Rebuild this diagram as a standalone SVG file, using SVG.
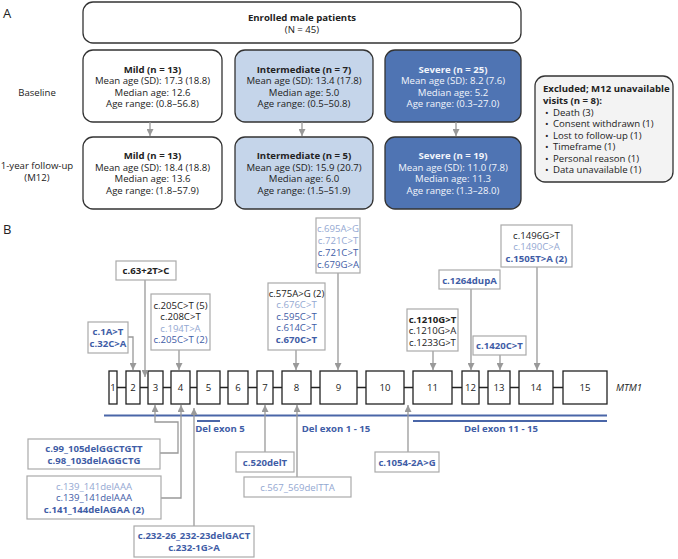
<svg xmlns="http://www.w3.org/2000/svg" width="678" height="559" viewBox="0 0 678 559">
<defs>
<style>
text{font-family:"Open Sans","Noto Sans","DejaVu Sans",sans-serif;font-size:9.6px;fill:#222}
.c{text-anchor:middle}
.b{font-weight:bold}
.w{fill:#f2f5fb}
.bl{fill:#3f5da6}
.lb{fill:#94a8d2}
.pan{font-size:13px}
.ex{font-size:9.6px}
.abox{stroke:#333;stroke-width:1.3}
.vbox{fill:#fff;stroke:#aaa;stroke-width:1.2}
.exon{fill:#fff;stroke:#222;stroke-width:1.3}
.con{fill:none;stroke:#999;stroke-width:1.3}
.del{stroke:#4a66a8;stroke-width:2}
</style>
<marker id="ah" markerWidth="7" markerHeight="7" refX="7" refY="3.5" orient="auto" markerUnits="userSpaceOnUse">
<path d="M0,0 L7,3.5 L0,7 z" fill="#999"/>
</marker>
</defs>
<rect width="678" height="559" fill="#fff"/>

<text x="3" y="18" class="pan">A</text>
<text x="3" y="234" class="pan">B</text>
<text x="37" y="95.5" class="c">Baseline</text>
<text x="37" y="168.5" class="c">1-year follow-up</text>
<text x="37" y="180.5" class="c">(M12)</text>

<g id="enrolled">
<rect x="83" y="2" width="438" height="41" rx="10" fill="#fff" class="abox"/>
<text x="302" y="21" class="c b">Enrolled male patients</text>
<text x="302" y="33" class="c">(N = 45)</text>
</g>

<g id="mild-baseline">
<rect x="83" y="50" width="139" height="72" rx="10" fill="#fff" class="abox"/>
<text x="152.5" y="72.5" class="c b">Mild (n = 13)</text>
<text x="152.5" y="84" class="c">Mean age (SD): 17.3 (18.8)</text>
<text x="152.5" y="95.5" class="c">Median age: 12.6</text>
<text x="152.5" y="107" class="c">Age range: (0.8–56.8)</text>
</g>
<g id="intermediate-baseline">
<rect x="235" y="50" width="138" height="72" rx="10" fill="#c5d5ea" class="abox"/>
<text x="304" y="72.5" class="c b">Intermediate (n = 7)</text>
<text x="304" y="84" class="c">Mean age (SD): 13.4 (17.8)</text>
<text x="304" y="95.5" class="c">Median age:  5.0</text>
<text x="304" y="107" class="c">Age range: (0.5–50.8)</text>
</g>
<g id="severe-baseline">
<rect x="385" y="50" width="136" height="72" rx="10" fill="#4f74b3" class="abox"/>
<text x="453" y="72.5" class="c b w">Severe (n = 25)</text>
<text x="453" y="84" class="c w">Mean age (SD): 8.2 (7.6)</text>
<text x="453" y="95.5" class="c w">Median age: 5.2</text>
<text x="453" y="107" class="c w">Age range: (0.3–27.0)</text>
</g>

<g id="mild-m12">
<rect x="83" y="137" width="139" height="72" rx="10" fill="#fff" class="abox"/>
<text x="152.5" y="159" class="c b">Mild (n = 13)</text>
<text x="152.5" y="170.5" class="c">Mean age (SD): 18.4 (18.8)</text>
<text x="152.5" y="182" class="c">Median age:  13.6</text>
<text x="152.5" y="193.5" class="c">Age range: (1.8–57.9)</text>
</g>
<g id="intermediate-m12">
<rect x="235" y="137" width="138" height="72" rx="10" fill="#c5d5ea" class="abox"/>
<text x="304" y="159" class="c b">Intermediate (n = 5)</text>
<text x="304" y="170.5" class="c">Mean age (SD): 15.9 (20.7)</text>
<text x="304" y="182" class="c">Median age: 6.0</text>
<text x="304" y="193.5" class="c">Age range: (1.5–51.9)</text>
</g>
<g id="severe-m12">
<rect x="385" y="137" width="136" height="72" rx="10" fill="#4f74b3" class="abox"/>
<text x="453" y="159" class="c b w">Severe (n = 19)</text>
<text x="453" y="170.5" class="c w">Mean age (SD): 11.0 (7.8)</text>
<text x="453" y="182" class="c w">Median age: 11.3</text>
<text x="453" y="193.5" class="c w">Age range: (1.3–28.0)</text>
</g>

<g id="excluded">
<rect x="535" y="76" width="138" height="106" rx="10" fill="#f3f3f3" class="abox"/>
<text x="543" y="91.5" class="b ex">Excluded; M12 unavailable</text>
<text x="543" y="103.5" class="b ex">visits (n = 8):</text>
<text x="545" y="115.5" class="ex">•<tspan x="553">Death (3)</tspan></text>
<text x="545" y="127" class="ex">•<tspan x="553">Consent withdrawn (1)</tspan></text>
<text x="545" y="138.5" class="ex">•<tspan x="553">Lost to follow-up (1)</tspan></text>
<text x="545" y="150" class="ex">•<tspan x="553">Timeframe (1)</tspan></text>
<text x="545" y="161.5" class="ex">•<tspan x="553">Personal reason (1)</tspan></text>
<text x="545" y="173" class="ex">•<tspan x="553">Data unavailable (1)</tspan></text>
</g>

<g id="gene">
<line x1="113" y1="387.5" x2="585" y2="387.5" stroke="#222" stroke-width="1.3"/>
<rect x="109" y="371" width="8" height="33" class="exon"/>
<rect x="126" y="371" width="14" height="33" class="exon"/>
<rect x="148" y="371" width="15" height="33" class="exon"/>
<rect x="171" y="371" width="19" height="33" class="exon"/>
<rect x="197" y="371" width="23" height="33" class="exon"/>
<rect x="228" y="371" width="20" height="33" class="exon"/>
<rect x="257" y="371" width="16" height="33" class="exon"/>
<rect x="282" y="371" width="29" height="33" class="exon"/>
<rect x="320" y="371" width="37" height="33" class="exon"/>
<rect x="366" y="371" width="38" height="33" class="exon"/>
<rect x="413" y="371" width="39" height="33" class="exon"/>
<rect x="462" y="371" width="17" height="33" class="exon"/>
<rect x="488" y="371" width="22" height="33" class="exon"/>
<rect x="519" y="371" width="34" height="33" class="exon"/>
<rect x="563" y="371" width="44" height="33" class="exon"/>
<text x="113" y="391" class="c">1</text>
<text x="133" y="391" class="c">2</text>
<text x="155.5" y="391" class="c">3</text>
<text x="180.5" y="391" class="c">4</text>
<text x="208.5" y="391" class="c">5</text>
<text x="238" y="391" class="c">6</text>
<text x="265" y="391" class="c">7</text>
<text x="296.5" y="391" class="c">8</text>
<text x="338.5" y="391" class="c">9</text>
<text x="385" y="391" class="c">10</text>
<text x="432.5" y="391" class="c">11</text>
<text x="470.5" y="391" class="c">12</text>
<text x="499" y="391" class="c">13</text>
<text x="536" y="391" class="c">14</text>
<text x="585" y="391" class="c">15</text>
<text x="616" y="391" font-style="italic">MTM1</text>
</g>

<g id="deletions">
<line x1="104" y1="415.5" x2="607" y2="415.5" class="del"/>
<line x1="197" y1="421" x2="220" y2="421" class="del"/>
<line x1="413" y1="421" x2="607" y2="421" class="del"/>
<text x="220" y="431.5" class="c b bl">Del exon 5</text>
<text x="336" y="431.5" class="c b bl">Del exon 1 - 15</text>
<text x="501" y="431.5" class="c b bl">Del exon 11 - 15</text>
</g>

<g id="connectors">
<path d="M150,122 V136" class="con" marker-end="url(#ah)"/>
<path d="M302,122 V136" class="con" marker-end="url(#ah)"/>
<path d="M456,122 V136" class="con" marker-end="url(#ah)"/>
<path d="M128,337 H133 V370" class="con" marker-end="url(#ah)"/>
<path d="M145,280 V377" class="con" marker-end="url(#ah)"/>
<path d="M179,350 V370" class="con" marker-end="url(#ah)"/>
<path d="M296,350 V370" class="con" marker-end="url(#ah)"/>
<path d="M338,273 V370" class="con" marker-end="url(#ah)"/>
<path d="M471,289 V370" class="con" marker-end="url(#ah)"/>
<path d="M433,351 V370" class="con" marker-end="url(#ah)"/>
<path d="M500,355 V370" class="con" marker-end="url(#ah)"/>
<path d="M537,267 V370" class="con" marker-end="url(#ah)"/>
<path d="M160,453 H178 V422 H155 V405" class="con" marker-end="url(#ah)"/>
<path d="M161,498 H181 V405" class="con" marker-end="url(#ah)"/>
<path d="M194,526 V408" class="con" marker-end="url(#ah)"/>
<path d="M265,452 V405" class="con" marker-end="url(#ah)"/>
<path d="M297,477 V405" class="con" marker-end="url(#ah)"/>
<path d="M408,452 V405" class="con" marker-end="url(#ah)"/>
</g>

<g id="v-exon2">
<rect x="88" y="322" width="40" height="31" class="vbox"/>
<text x="108" y="335" class="c b bl">c.1A&gt;T</text>
<text x="108" y="347" class="c b bl">c.32C&gt;A</text>
</g>
<g id="v-intron2">
<rect x="116" y="261" width="60" height="19" class="vbox"/>
<text x="146" y="274" class="c b">c.63+2T&gt;C</text>
</g>
<g id="v-exon4">
<rect x="151" y="294" width="59" height="56" class="vbox"/>
<text x="180.5" y="308.5" class="c">c.205C&gt;T (5)</text>
<text x="180.5" y="320" class="c">c.208C&gt;T</text>
<text x="180.5" y="331.5" class="c lb">c.194T&gt;A</text>
<text x="180.5" y="343" class="c bl">c.205C&gt;T (2)</text>
</g>
<g id="v-exon8">
<rect x="268" y="283" width="57" height="67" class="vbox"/>
<text x="296.5" y="296.5" class="c">c.575A&gt;G (2)</text>
<text x="296.5" y="308" class="c lb">c.676C&gt;T</text>
<text x="296.5" y="319.5" class="c bl">c.595C&gt;T</text>
<text x="296.5" y="331" class="c bl">c.614C&gt;T</text>
<text x="296.5" y="342.5" class="c b bl">c.670C&gt;T</text>
</g>
<g id="v-exon9">
<rect x="316" y="218" width="44" height="55" class="vbox"/>
<text x="338" y="231.5" class="c lb">c.695A&gt;G</text>
<text x="338" y="243.5" class="c lb">c.721C&gt;T</text>
<text x="338" y="255.5" class="c bl">c.721C&gt;T</text>
<text x="338" y="267.5" class="c bl">c.679G&gt;A</text>
</g>
<g id="v-exon12">
<rect x="439" y="270" width="61" height="19" class="vbox"/>
<text x="469.5" y="283.5" class="c b bl">c.1264dupA</text>
</g>
<g id="v-exon14">
<rect x="501" y="225" width="71" height="42" class="vbox"/>
<text x="536.5" y="238.5" class="c">c.1496G&gt;T</text>
<text x="536.5" y="250" class="c lb">c.1490C&gt;A</text>
<text x="536.5" y="261.5" class="c b bl">c.1505T&gt;A (2)</text>
</g>
<g id="v-exon11">
<rect x="407" y="309" width="51" height="42" class="vbox"/>
<text x="432.5" y="322.5" class="c b">c.1210G&gt;T</text>
<text x="432.5" y="334" class="c">c.1210G&gt;A</text>
<text x="432.5" y="345.5" class="c">c.1233G&gt;T</text>
</g>
<g id="v-exon13">
<rect x="473" y="336" width="53" height="19" class="vbox"/>
<text x="499.5" y="349" class="c b bl">c.1420C&gt;T</text>
</g>
<g id="v-exon3">
<rect x="28" y="439" width="132" height="30" class="vbox"/>
<text x="94" y="452" class="c b bl">c.99_105delGGCTGTT</text>
<text x="94" y="464" class="c b bl">c.98_103delAGGCTG</text>
</g>
<g id="v-exon4-del">
<rect x="27" y="476" width="134" height="43" class="vbox"/>
<text x="94" y="489.5" class="c lb">c.139_141delAAA</text>
<text x="94" y="501" class="c bl">c.139_141delAAA</text>
<text x="94" y="512.5" class="c b bl">c.141_144delAGAA (2)</text>
</g>
<g id="v-intron4">
<rect x="134" y="526" width="120" height="31" class="vbox"/>
<text x="194" y="539" class="c b bl">c.232-26_232-23delGACT</text>
<text x="194" y="551" class="c b bl">c.232-1G&gt;A</text>
</g>
<g id="v-exon7">
<rect x="236" y="452" width="58" height="20" class="vbox"/>
<text x="265" y="465.5" class="c b bl">c.520delT</text>
</g>
<g id="v-exon8-del">
<rect x="244" y="477" width="107" height="20" class="vbox"/>
<text x="297.5" y="490.5" class="c lb">c.567_569delTTA</text>
</g>
<g id="v-intron10">
<rect x="375" y="452" width="64" height="20" class="vbox"/>
<text x="407" y="465.5" class="c b bl">c.1054-2A&gt;G</text>
</g>
</svg>
